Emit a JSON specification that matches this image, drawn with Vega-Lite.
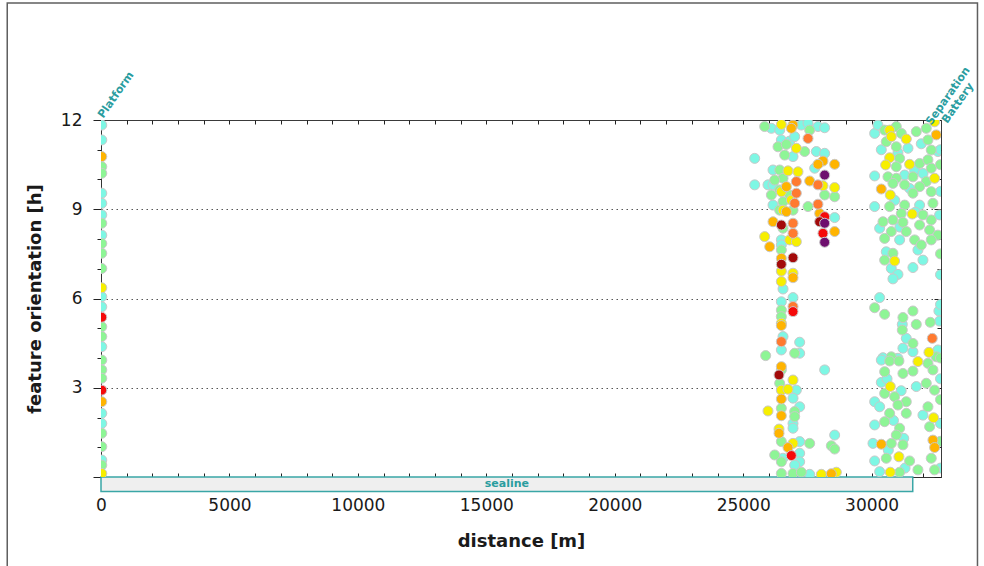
{
"$schema": "https://vega.github.io/schema/vega-lite/v6.json",
"width": 840, "height": 357,
"autosize": {"type": "none"},
"padding": {"left": 101, "top": 120, "right": 43, "bottom": 89},
"background": "white",
"config": {"view": {"stroke": "#3a3a3a", "strokeWidth": 1}, "font": "DejaVu Sans", "axis": {"ticks": true, "tickWidth": 1, "tickOpacity": 1, "tickColor": "#222"}},
"datasets": {
"pts": [
{"x":25836,"y":11.78,"s":2},{"x":26096,"y":11.72,"s":1},{"x":26485,"y":11.85,"s":3},{"x":26420,"y":11.66,"s":1},{"x":26939,"y":11.83,"s":4},{"x":26874,"y":11.72,"s":4},{"x":27264,"y":11.83,"s":1},{"x":27523,"y":11.89,"s":1},{"x":27587,"y":11.66,"s":2},{"x":27911,"y":11.78,"s":1},{"x":28171,"y":11.74,"s":1},{"x":27523,"y":11.38,"s":5},{"x":26485,"y":11.33,"s":1},{"x":26809,"y":11.29,"s":1},{"x":26355,"y":11.10,"s":2},{"x":26680,"y":11.18,"s":2},{"x":27004,"y":11.44,"s":1},{"x":27069,"y":11.05,"s":3},{"x":27393,"y":10.94,"s":2},{"x":27847,"y":10.94,"s":1},{"x":28171,"y":10.88,"s":1},{"x":25447,"y":10.71,"s":1},{"x":26939,"y":10.77,"s":1},{"x":26615,"y":10.82,"s":2},{"x":28105,"y":10.62,"s":4},{"x":27911,"y":10.51,"s":4},{"x":28560,"y":10.51,"s":4},{"x":27782,"y":10.38,"s":1},{"x":26160,"y":10.32,"s":1},{"x":26420,"y":10.32,"s":2},{"x":26744,"y":10.29,"s":3},{"x":27133,"y":10.26,"s":3},{"x":28171,"y":10.15,"s":8},{"x":26550,"y":10.04,"s":2},{"x":26226,"y":9.98,"s":2},{"x":27069,"y":9.93,"s":5},{"x":27587,"y":9.95,"s":4},{"x":27911,"y":9.82,"s":5},{"x":28105,"y":9.79,"s":3},{"x":28560,"y":9.73,"s":3},{"x":25447,"y":9.82,"s":1},{"x":25965,"y":9.82,"s":1},{"x":26160,"y":9.82,"s":1},{"x":26680,"y":9.76,"s":4},{"x":26420,"y":9.65,"s":2},{"x":26485,"y":9.59,"s":3},{"x":27069,"y":9.54,"s":5},{"x":26809,"y":9.48,"s":2},{"x":28171,"y":9.48,"s":2},{"x":28560,"y":9.42,"s":2},{"x":26096,"y":9.48,"s":2},{"x":26160,"y":9.14,"s":1},{"x":26550,"y":9.25,"s":2},{"x":27004,"y":9.20,"s":5},{"x":26874,"y":9.31,"s":3},{"x":27523,"y":9.09,"s":2},{"x":27911,"y":9.17,"s":5},{"x":27976,"y":8.86,"s":4},{"x":26420,"y":8.97,"s":2},{"x":26550,"y":8.97,"s":3},{"x":26680,"y":8.92,"s":4},{"x":26939,"y":8.97,"s":2},{"x":28560,"y":8.72,"s":1},{"x":28171,"y":8.75,"s":6},{"x":27976,"y":8.58,"s":7},{"x":28171,"y":8.53,"s":8},{"x":28105,"y":8.19,"s":6},{"x":28560,"y":8.25,"s":4},{"x":26160,"y":8.58,"s":4},{"x":26485,"y":8.47,"s":7},{"x":26939,"y":8.53,"s":5},{"x":26939,"y":8.19,"s":5},{"x":26550,"y":8.36,"s":2},{"x":25836,"y":8.08,"s":3},{"x":26809,"y":7.97,"s":3},
{"x":26031,"y":7.74,"s":4},{"x":26485,"y":7.97,"s":1},{"x":27069,"y":7.91,"s":3},{"x":28171,"y":7.89,"s":8},{"x":26485,"y":7.80,"s":1},{"x":26485,"y":7.63,"s":2},{"x":26485,"y":7.35,"s":4},{"x":26485,"y":7.15,"s":7},{"x":26939,"y":7.37,"s":7},{"x":26485,"y":6.92,"s":3},{"x":26485,"y":6.57,"s":3},{"x":26939,"y":6.85,"s":3},{"x":26939,"y":6.70,"s":4},{"x":26550,"y":6.32,"s":1},{"x":26485,"y":5.89,"s":1},{"x":26939,"y":6.03,"s":1},{"x":26939,"y":5.73,"s":5},{"x":26939,"y":5.56,"s":6},{"x":26485,"y":5.61,"s":2},{"x":26485,"y":5.39,"s":2},{"x":26485,"y":5.17,"s":3},{"x":26485,"y":5.09,"s":4},{"x":26550,"y":4.72,"s":1},{"x":26485,"y":4.55,"s":5},{"x":26485,"y":4.27,"s":1},{"x":27198,"y":4.53,"s":1},{"x":27004,"y":4.16,"s":2},{"x":27198,"y":4.16,"s":1},{"x":25875,"y":4.08,"s":2},
{"x":26485,"y":3.71,"s":4},{"x":26485,"y":3.60,"s":2},{"x":26394,"y":3.43,"s":7},{"x":28171,"y":3.60,"s":1},{"x":26939,"y":3.26,"s":3},{"x":26420,"y":3.15,"s":2},{"x":26485,"y":2.92,"s":3},{"x":26744,"y":2.95,"s":3},{"x":27069,"y":2.92,"s":1},{"x":26485,"y":2.62,"s":4},{"x":26939,"y":2.65,"s":1},{"x":27198,"y":2.36,"s":1},{"x":25965,"y":2.22,"s":3},{"x":26485,"y":2.06,"s":4},{"x":26485,"y":2.31,"s":2},{"x":27004,"y":2.20,"s":2},{"x":27004,"y":2.03,"s":2},{"x":26939,"y":1.80,"s":1},{"x":26939,"y":1.64,"s":1},{"x":26394,"y":1.61,"s":3},{"x":26394,"y":1.47,"s":4},{"x":26485,"y":1.19,"s":2},{"x":26939,"y":1.13,"s":3},{"x":27198,"y":1.19,"s":1},{"x":27587,"y":1.13,"s":2},{"x":26744,"y":0.99,"s":4},{"x":28560,"y":1.41,"s":1},{"x":28431,"y":1.05,"s":2},{"x":28560,"y":0.94,"s":2},{"x":26874,"y":0.72,"s":6},{"x":26226,"y":0.74,"s":2},{"x":26550,"y":0.63,"s":1},{"x":27198,"y":0.80,"s":1},{"x":27198,"y":0.51,"s":1},{"x":26485,"y":0.51,"s":2},{"x":27004,"y":0.40,"s":1},{"x":26485,"y":0.12,"s":2},{"x":26939,"y":0.12,"s":2},{"x":27264,"y":0.16,"s":2},{"x":27587,"y":0.09,"s":1},{"x":28042,"y":0.09,"s":3},{"x":28431,"y":0.11,"s":4},{"x":28626,"y":0.16,"s":3},
{"x":30117,"y":11.55,"s":1},{"x":30246,"y":11.83,"s":1},{"x":30506,"y":11.66,"s":2},{"x":30700,"y":11.66,"s":3},{"x":30765,"y":11.44,"s":3},{"x":30960,"y":11.78,"s":2},{"x":31155,"y":11.55,"s":2},{"x":31349,"y":11.36,"s":3},{"x":31738,"y":11.61,"s":2},{"x":32127,"y":11.72,"s":2},{"x":32451,"y":11.94,"s":3},{"x":32516,"y":11.50,"s":4},{"x":32192,"y":11.33,"s":2},{"x":30570,"y":11.27,"s":2},{"x":30960,"y":11.10,"s":2},{"x":31414,"y":11.05,"s":1},{"x":32321,"y":10.99,"s":2},{"x":32580,"y":10.94,"s":1},{"x":30700,"y":10.73,"s":3},{"x":30544,"y":10.49,"s":3},{"x":31089,"y":10.71,"s":2},{"x":31478,"y":10.51,"s":3},{"x":31867,"y":10.54,"s":2},{"x":30960,"y":10.43,"s":2},{"x":32192,"y":10.66,"s":2},{"x":32321,"y":10.38,"s":2},{"x":30117,"y":10.12,"s":1},{"x":30635,"y":10.09,"s":2},{"x":30960,"y":10.04,"s":2},{"x":31284,"y":10.15,"s":1},{"x":31608,"y":10.09,"s":2},{"x":32451,"y":10.04,"s":3},{"x":32127,"y":9.93,"s":2},{"x":31284,"y":9.82,"s":2},{"x":31867,"y":9.76,"s":2},{"x":30829,"y":9.87,"s":2},{"x":30376,"y":9.68,"s":4},{"x":30726,"y":9.48,"s":3},{"x":31608,"y":9.54,"s":2},{"x":32321,"y":9.59,"s":2},{"x":30117,"y":9.09,"s":1},{"x":30700,"y":9.09,"s":2},{"x":31284,"y":9.14,"s":2},{"x":31867,"y":9.14,"s":1},{"x":32386,"y":9.20,"s":2},{"x":31582,"y":8.84,"s":3},{"x":31155,"y":8.86,"s":2},{"x":30441,"y":8.58,"s":2},{"x":30829,"y":8.64,"s":2},{"x":31218,"y":8.56,"s":2},{"x":31997,"y":8.81,"s":2},{"x":32321,"y":8.64,"s":2},{"x":32645,"y":8.81,"s":1},{"x":31867,"y":8.47,"s":2},{"x":30311,"y":8.36,"s":1},{"x":30765,"y":8.25,"s":2},{"x":31349,"y":8.25,"s":2},{"x":32257,"y":8.30,"s":2},{"x":32580,"y":8.13,"s":2},
{"x":30376,"y":11.0,"s":1},{"x":31024,"y":10.9,"s":1},{"x":31673,"y":10.3,"s":1},{"x":31932,"y":11.2,"s":1},{"x":30900,"y":9.3,"s":1},{"x":31479,"y":9.7,"s":1},{"x":32000,"y":10.2,"s":1},{"x":31100,"y":8.4,"s":1},{"x":31700,"y":8.9,"s":1},
{"x":30506,"y":8.02,"s":2},{"x":31089,"y":7.97,"s":1},{"x":31673,"y":7.97,"s":2},{"x":32321,"y":7.97,"s":2},{"x":30570,"y":7.57,"s":1},{"x":30829,"y":7.52,"s":2},{"x":31932,"y":7.80,"s":2},{"x":31802,"y":7.63,"s":1},{"x":30894,"y":7.26,"s":3},{"x":30506,"y":7.29,"s":2},{"x":31997,"y":7.29,"s":1},{"x":31608,"y":7.04,"s":1},{"x":30765,"y":7.01,"s":1},{"x":31024,"y":6.81,"s":1},{"x":30829,"y":6.66,"s":1},{"x":30311,"y":6.03,"s":1},{"x":30117,"y":5.69,"s":2},{"x":30506,"y":5.47,"s":2},{"x":31218,"y":5.36,"s":2},{"x":31608,"y":5.58,"s":2},{"x":31193,"y":4.94,"s":2},{"x":31193,"y":5.13,"s":1},{"x":31738,"y":5.13,"s":2},{"x":32283,"y":5.20,"s":2},{"x":32619,"y":5.58,"s":1},{"x":32645,"y":5.24,"s":1},{"x":32360,"y":4.66,"s":5},{"x":32231,"y":4.19,"s":3},{"x":31349,"y":4.66,"s":1},{"x":31608,"y":4.49,"s":2},{"x":31218,"y":4.33,"s":1},{"x":31608,"y":4.21,"s":1},{"x":31802,"y":3.88,"s":3},{"x":30441,"y":4.01,"s":1},{"x":30765,"y":4.04,"s":2},{"x":31024,"y":3.99,"s":1},{"x":32580,"y":4.27,"s":1},{"x":32516,"y":4.04,"s":2},
{"x":30376,"y":3.93,"s":1},{"x":30700,"y":3.90,"s":2},{"x":31062,"y":3.90,"s":2},{"x":32192,"y":3.82,"s":2},{"x":32386,"y":3.60,"s":2},{"x":31608,"y":3.56,"s":2},{"x":31218,"y":3.48,"s":2},{"x":30506,"y":3.54,"s":2},{"x":30726,"y":3.04,"s":3},{"x":30376,"y":3.18,"s":1},{"x":31738,"y":3.04,"s":1},{"x":32127,"y":3.15,"s":2},{"x":32451,"y":2.92,"s":2},{"x":30506,"y":2.81,"s":2},{"x":30894,"y":2.70,"s":2},{"x":31349,"y":2.53,"s":2},{"x":30117,"y":2.53,"s":1},{"x":30311,"y":2.36,"s":1},{"x":30700,"y":2.14,"s":2},{"x":31349,"y":2.14,"s":2},{"x":31024,"y":2.42,"s":2},{"x":32192,"y":2.36,"s":2},{"x":32412,"y":1.99,"s":3},{"x":31997,"y":2.08,"s":1},{"x":30117,"y":1.75,"s":1},{"x":30506,"y":1.86,"s":2},{"x":31089,"y":1.64,"s":2},{"x":30960,"y":1.41,"s":2},{"x":32257,"y":1.69,"s":2},{"x":32386,"y":1.24,"s":4},{"x":32451,"y":0.99,"s":4},{"x":30376,"y":1.10,"s":4},{"x":30052,"y":1.13,"s":1},{"x":30765,"y":1.13,"s":2},{"x":31218,"y":1.08,"s":2},{"x":31062,"y":0.68,"s":3},{"x":30117,"y":0.54,"s":1},{"x":30570,"y":0.63,"s":2},{"x":31478,"y":0.54,"s":2},{"x":31802,"y":0.24,"s":2},{"x":32321,"y":0.63,"s":2},{"x":32451,"y":0.24,"s":2},{"x":30726,"y":0.16,"s":3},{"x":31089,"y":0.16,"s":2},{"x":30311,"y":0.18,"s":1},
{"x":30600,"y":3.3,"s":1},{"x":31150,"y":2.9,"s":1},{"x":30850,"y":1.9,"s":1},{"x":31250,"y":1.3,"s":1},{"x":30650,"y":0.9,"s":1},{"x":31300,"y":0.3,"s":1},
{"x":32680,"y":11.0,"s":1},{"x":32680,"y":10.5,"s":2},{"x":32680,"y":9.6,"s":1},{"x":32680,"y":7.5,"s":2},{"x":32680,"y":6.8,"s":1},{"x":32680,"y":5.8,"s":1},{"x":32680,"y":4.0,"s":2},{"x":32680,"y":3.3,"s":1},{"x":32680,"y":2.6,"s":2},{"x":32680,"y":1.8,"s":1},{"x":32680,"y":1.2,"s":2},{"x":32680,"y":0.3,"s":1},
{"x":30,"y":11.83,"s":1},{"x":30,"y":11.33,"s":1},{"x":30,"y":10.77,"s":4},{"x":30,"y":10.43,"s":2},{"x":30,"y":10.21,"s":2},{"x":30,"y":9.54,"s":1},{"x":30,"y":9.20,"s":1},{"x":30,"y":8.81,"s":1},{"x":30,"y":8.53,"s":2},{"x":30,"y":8.13,"s":1},{"x":30,"y":7.85,"s":2},{"x":30,"y":7.52,"s":2},{"x":30,"y":7.01,"s":2},{"x":30,"y":6.36,"s":3},{"x":30,"y":6.06,"s":1},{"x":30,"y":5.72,"s":1},{"x":30,"y":5.37,"s":6},{"x":30,"y":5.05,"s":2},{"x":30,"y":4.72,"s":2},{"x":30,"y":4.38,"s":1},{"x":30,"y":3.93,"s":2},{"x":30,"y":3.60,"s":2},{"x":30,"y":3.32,"s":2},{"x":30,"y":2.92,"s":6},{"x":30,"y":2.53,"s":4},{"x":30,"y":2.14,"s":1},{"x":30,"y":1.80,"s":1},{"x":30,"y":1.47,"s":2},{"x":30,"y":1.02,"s":2},{"x":30,"y":0.57,"s":1},{"x":30,"y":0.40,"s":2},{"x":30,"y":0.12,"s":3}
],
"sea": [{"start": 0, "end": 31600, "name": "sealine"}]
},
"layer": [
{
"data": {"values": [{}]},
"mark": {"type": "rect", "fillOpacity": 0, "stroke": "#5f5f5f", "strokeWidth": 1.5},
"encoding": {
"x": {"datum": -3650, "type": "quantitative", "scale": {"domain": [0, 32700], "nice": false, "zero": false}, "axis": null},
"x2": {"datum": 34120},
"y": {"datum": 15.93, "type": "quantitative", "scale": {"domain": [0, 12], "nice": false, "zero": false}, "axis": null},
"y2": {"datum": -4.5}
}
},
{
"data": {"name": "sea"},
"mark": {"type": "rect", "fill": "#efefef", "stroke": "#3aa6a6", "strokeWidth": 1.5},
"encoding": {
"x": {"field": "start", "type": "quantitative", "scale": {"domain": [0, 32700], "nice": false, "zero": false}, "axis": null},
"x2": {"field": "end"},
"y": {"datum": 0, "type": "quantitative", "scale": {"domain": [0, 12], "nice": false, "zero": false}, "axis": null},
"y2": {"datum": -0.49}
}
},
{
"data": {"name": "sea"},
"mark": {"type": "text", "fontSize": 11, "fontWeight": "bold", "color": "#2a9d9f", "align": "center", "baseline": "middle"},
"encoding": {
"x": {"datum": 15800, "type": "quantitative", "scale": {"domain": [0, 32700], "nice": false, "zero": false}, "axis": null},
"y": {"datum": -0.24, "type": "quantitative", "scale": {"domain": [0, 12], "nice": false, "zero": false},
"axis": {"orient": "left", "values": [1,2,4,5,7,8,10,11], "labels": false, "domain": false, "grid": false, "title": null, "ticks": true, "tickColor": "#222", "tickSize": 4, "tickWidth": 1}},
"text": {"field": "name"}
}
},
{
"data": {"name": "pts"},
"mark": {"type": "circle", "size": 100, "opacity": 1, "stroke": "#c9c9c9", "strokeWidth": 1, "clip": true},
"encoding": {
"x": {"field": "x", "type": "quantitative", "scale": {"domain": [0, 32700], "nice": false, "zero": false},
"axis": {"orient": "bottom", "values": [0,1000,2000,3000,4000,5000,6000,7000,8000,9000,10000,11000,12000,13000,14000,15000,16000,17000,18000,19000,20000,21000,22000,23000,24000,25000,26000,27000,28000,29000,30000,31000,32000],
"format": "d", "labelExpr": "datum.value % 5000 === 0 ? datum.label : ''",
"ticks": true, "tickSize": -4, "tickWidth": 1, "tickColor": "#222", "domainColor": "#333", "labelFontSize": 17, "labelColor": "#1a1a1a", "labelPadding": 24, "labelFlush": false, "labelOverlap": false,
"grid": false, "title": "distance [m]", "titleFontSize": 18, "titleFontWeight": "bold", "titleColor": "#1a1a1a", "titleX": 420, "titleY": 55}},
"y": {"field": "y", "type": "quantitative", "scale": {"domain": [0, 12], "nice": false, "zero": false},
"axis": {"orient": "left", "values": [0,3,6,9,12],
"labelExpr": "datum.value > 0 ? datum.label : ''",
"ticks": true, "tickSize": 8, "tickWidth": 1, "tickColor": "#222", "domainColor": "#333", "labelFontSize": 17, "labelColor": "#1a1a1a", "labelPadding": 11, "labelFlush": false, "labelOverlap": false,
"grid": true, "gridColor": "#555", "gridDash": [1.5, 3.5],
"gridOpacity": {"condition": {"test": "datum.value > 0 && datum.value < 12", "value": 1}, "value": 0},
"title": "feature orientation [h]", "titleFontSize": 18, "titleFontWeight": "bold", "titleColor": "#1a1a1a", "titleX": -57, "titleY": 178.5}},
"color": {"field": "s", "type": "ordinal", "scale": {"domain": [1,2,3,4,5,6,7,8], "range": ["#7ef7e4","#8ef596","#f7ef00","#ffb400","#ff7a30","#f50a0a","#a30a0a","#6e0f6e"]}, "legend": null},
"order": {"field": "s", "type": "quantitative"}
}
},
{
"data": {"values": [{"t": "Platform"}]},
"mark": {"type": "text", "fontSize": 11, "fontWeight": "bold", "color": "#2a9d9f", "align": "left", "baseline": "bottom", "angle": -55},
"encoding": {
"x": {"datum": 150, "type": "quantitative", "scale": {"domain": [0, 32700], "nice": false, "zero": false},
"axis": {"orient": "top", "values": [0,1000,2000,3000,4000,5000,6000,7000,8000,9000,10000,11000,12000,13000,14000,15000,16000,17000,18000,19000,20000,21000,22000,23000,24000,25000,26000,27000,28000,29000,30000,31000,32000],
"labels": false, "domain": false, "grid": false, "title": null, "ticks": true, "tickColor": "#222", "tickSize": -4, "tickWidth": 1}},
"y": {"datum": 12, "type": "quantitative", "scale": {"domain": [0, 12], "nice": false, "zero": false},
"axis": {"orient": "right", "values": [0,3,6,9,12],
"labels": false, "domain": false, "grid": false, "title": null, "ticks": true, "tickColor": "#222", "tickSize": -7, "tickWidth": 1}},
"text": {"field": "t"}
}
},
{
"data": {"values": [{"t": ["Separation", "Battery"]}]},
"mark": {"type": "text", "fontSize": 11, "fontWeight": "bold", "color": "#2a9d9f", "align": "center", "baseline": "bottom", "angle": -55, "lineHeight": 12},
"encoding": {
"x": {"datum": 33144, "type": "quantitative", "scale": {"domain": [0, 32700], "nice": false, "zero": false}, "axis": null},
"y": {"datum": 12.7, "type": "quantitative", "scale": {"domain": [0, 12], "nice": false, "zero": false},
"axis": {"orient": "right", "values": [1,2,4,5,7,8,10,11], "labels": false, "domain": false, "grid": false, "title": null, "ticks": true, "tickColor": "#222", "tickSize": -4, "tickWidth": 1}},
"text": {"field": "t"}
}
}
],
"resolve": {"axis": {"x": "independent", "y": "independent"}}
}
